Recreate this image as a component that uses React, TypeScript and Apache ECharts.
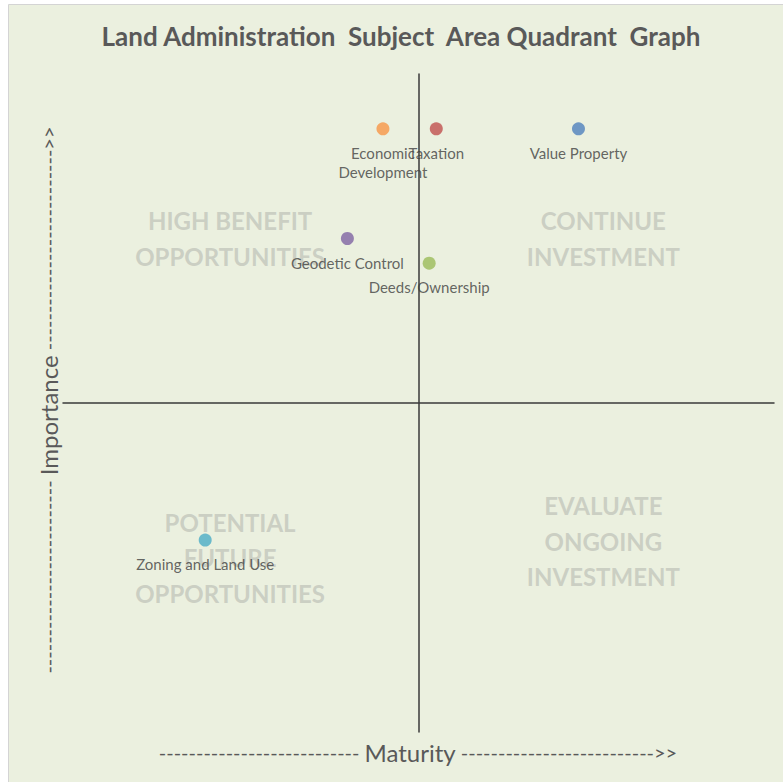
import React, { useEffect, useRef } from "react";
import * as echarts from "echarts";

const pointNames = [
  "Economic Development",
  "Taxation",
  "Value Property",
  "Geodetic Control",
  "Deeds/Ownership",
  "Zoning and Land Use",
];
const maturity = [-1, 0.5, 4.5, -2, 0.3, -6];
const importance = [10, 10, 10, 6, 5.1, -5];
const pointColors = ["#F79646", "#C0504D", "#4F81BD", "#8064A2", "#9BBB59", "#4BACC6"];
// names whose data label wraps onto two lines
const wrappedNames = ["Economic Development"];

const quadrantNames = [
  "HIGH BENEFIT\nOPPORTUNITIES",
  "CONTINUE\nINVESTMENT",
  "POTENTIAL\nFUTURE\nOPPORTUNITIES",
  "EVALUATE\nONGOING\nINVESTMENT",
];
const quadrantX = [-5.3, 5.2, -5.3, 5.2];
const quadrantY = [6, 6, -5.65, -5.05];

const titleText = "Land Administration  Subject  Area Quadrant  Graph";
const xName = "Maturity";
const yName = "Importance";

const FONT = "Lato, 'Open Sans', sans-serif";

function dashes(n: number) {
  return "-".repeat(n);
}

export default function App() {
  const ref = useRef<HTMLDivElement>(null);
  useEffect(() => {
    if (!ref.current) return;
    const chart = echarts.init(ref.current, undefined, { renderer: "svg" });
    const rich = {
      d: { fontSize: 20, fontFamily: FONT, fill: "#595959", color: "#595959" },
      w: { fontSize: 24, fontFamily: FONT, fill: "#595959", color: "#595959" },
    };
    const option: any = {
      animation: false,
      backgroundColor: "#ffffff",
      textStyle: { fontFamily: FONT },
      grid: { left: 63, right: 9, top: 74, bottom: 50 },
      xAxis: {
        type: "value",
        min: -10,
        max: 10,
        axisLine: { onZero: true, lineStyle: { color: "#3a3a3a", width: 1.5 } },
        axisTick: { show: false },
        axisLabel: { show: false },
        splitLine: { show: false },
      },
      yAxis: {
        type: "value",
        min: -12,
        max: 12,
        axisLine: { onZero: true, lineStyle: { color: "#3a3a3a", width: 1.5 } },
        axisTick: { show: false },
        axisLabel: { show: false },
        splitLine: { show: false },
      },
      graphic: [
        {
          type: "rect",
          z: -10,
          silent: true,
          shape: { x: 8.5, y: 4.5, width: 800, height: 800 },
          style: { fill: "#EBF0DF", stroke: "#D4D4D4", lineWidth: 1 },
        },
        {
          type: "text",
          x: 401,
          y: 36,
          style: {
            text: titleText,
            fontFamily: FONT,
            fontSize: 26,
            fontWeight: "bold",
            fill: "#595959",
            align: "center",
            verticalAlign: "middle",
          },
        },
        {
          type: "text",
          x: 418,
          y: 752,
          style: {
            text: `{d|${dashes(27)} }{w|${xName}}{d| ${dashes(26)}>>}`,
            rich,
            fontFamily: FONT,
            fill: "#595959",
            align: "center",
            verticalAlign: "middle",
          },
        },
        {
          type: "text",
          x: 48,
          y: 400,
          rotation: Math.PI / 2,
          style: {
            text: `{d|${dashes(26)} }{w|${yName}}{d| ${dashes(27)}>>}`,
            rich,
            fontFamily: FONT,
            fill: "#595959",
            align: "center",
            verticalAlign: "middle",
          },
        },
      ],
      series: [
        {
          type: "scatter",
          z: 1,
          symbolSize: 0,
          silent: true,
          data: quadrantNames.map((n, i) => ({ name: n, value: [quadrantX[i], quadrantY[i]] })),
          label: {
            show: true,
            position: "inside",
            formatter: "{b}",
            fontFamily: FONT,
            fontSize: 24,
            fontWeight: "bold",
            color: "#C3C6BC",
            lineHeight: 35.5,
            align: "center",
            verticalAlign: "middle",
          },
        },
        {
          type: "scatter",
          z: 3,
          symbolSize: 13,
          data: pointNames.map((n, i) => ({
            name: n,
            value: [maturity[i], importance[i]],
            itemStyle: { color: pointColors[i] },
          })),
          label: {
            show: true,
            position: "bottom",
            distance: 8,
            formatter: (p: any) =>
              wrappedNames.indexOf(p.name) >= 0 ? p.name.replace(" ", "\n") : p.name,
            fontFamily: FONT,
            fontSize: 15,
            color: "#404040",
            lineHeight: 19,
            align: "center",
          },
        },
      ],
    };
    chart.setOption(option);
    return () => chart.dispose();
  }, []);
  return (
    <div
      ref={ref}
      style={{ position: "fixed", left: 0, top: 0, width: 783, height: 782 }}
    />
  );
}
